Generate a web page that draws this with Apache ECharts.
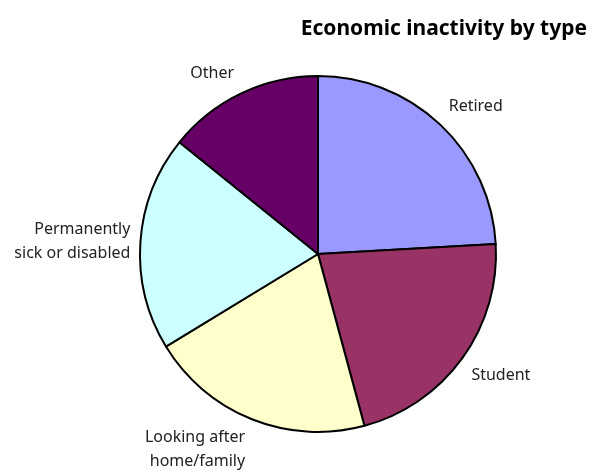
<!DOCTYPE html>
<html><head><meta charset="utf-8">
<script src="https://cdn.jsdelivr.net/npm/echarts@6/dist/echarts.min.js"></script>
<style>html,body{margin:0;padding:0;background:#fff}#c{width:594px;height:474px}</style>
</head><body><div id="c"></div>
<script>
const categories = ['Retired', 'Student', 'Looking after\nhome/family', 'Permanently\nsick or disabled', 'Other'];
const values = [24.1, 21.7, 20.5, 19.5, 14.2];
const colors = ['#9999FF', '#993366', '#FFFFCC', '#CCFFFF', '#660066'];

const total = values.reduce((a, b) => a + b, 0);
const midCos = [];
let acc = 0;
values.forEach(v => {
  const mid = (acc + v / 2) / total * 2 * Math.PI;
  acc += v;
  midCos.push(Math.cos(mid));
});

const data = categories.map((name, i) => ({ name, value: values[i], itemStyle: { color: colors[i] } }));

const chart = echarts.init(document.getElementById('c'), null, { renderer: 'canvas' });
chart.setOption({
  animation: false,
  title: {
    text: 'Economic inactivity by type',
    right: 2, top: 14,
    textStyle: { fontFamily: 'Noto Sans', fontWeight: 'bold', fontSize: 21, color: '#000' }
  },
  series: [{
    type: 'pie',
    center: [318, 254],
    radius: 178,
    startAngle: 90,
    clockwise: true,
    data: data,
    itemStyle: { borderColor: '#000', borderWidth: 2 },
    label: {
      show: true, position: 'outside',
      formatter: '{b}',
      fontFamily: 'Noto Sans', fontSize: 16, color: '#222', lineHeight: 24
    },
    labelLine: { show: false, length: 5, length2: 0 },
    labelLayout: function (p) {
      const c = midCos[p.dataIndex];
      const h = p.labelRect.height;
      let dy = 0;
      if (c > 0.3) dy = -(h / 2 + 3);
      else if (c < -0.3) dy = h / 2 + 2;
      return { dy: dy };
    },
    emphasis: { disabled: true }
  }]
});
</script></body></html>
